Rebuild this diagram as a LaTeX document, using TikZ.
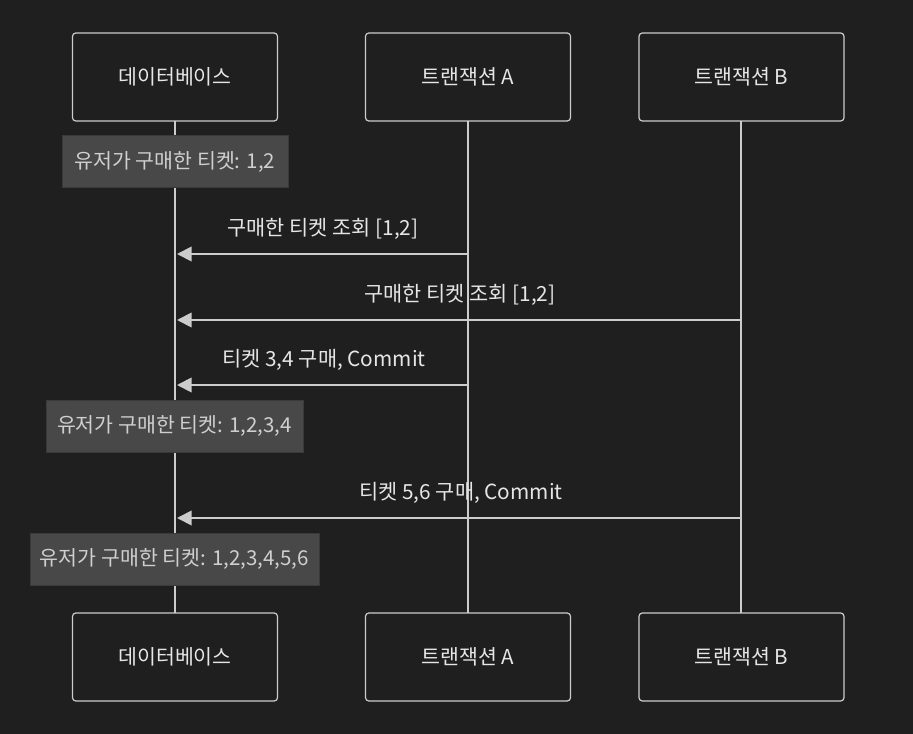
\documentclass[tikz,border=0pt]{standalone}
\usepackage{fontspec}
\setmainfont{Noto Sans CJK KR}
\usetikzlibrary{arrows.meta}
\definecolor{bg}{HTML}{1F1F1F}
\definecolor{ln}{HTML}{CCCCCC}
\definecolor{notefill}{HTML}{484848}
\definecolor{noteedge}{HTML}{3A3A3A}
\definecolor{txt}{HTML}{E6E6E6}
\definecolor{notetxt}{HTML}{CFCFCF}
\tikzset{
  actor/.style={draw=ln, line width=0.9pt, rounded corners=2.5pt, fill=bg, minimum width=153.75pt, minimum height=66pt, text=txt, font=\fontsize{15.4pt}{18pt}\selectfont, inner sep=0pt},
  life/.style={draw=ln, line width=1.5pt},
  note/.style={fill=notefill, draw=noteedge, line width=0.75pt, text=notetxt, font=\fontsize{15.4pt}{18pt}\selectfont, minimum height=39pt, inner sep=0pt},
  msg/.style={draw=ln, line width=1.4pt, -{Triangle[length=11pt,width=11pt]}},
  mlabel/.style={text=txt, font=\fontsize{15.6pt}{18pt}\selectfont, inner sep=0pt}
}
\begin{document}
\begin{tikzpicture}[x=0.75pt,y=-0.75pt]
\fill[bg] (0,0) rectangle (913,734);
\useasboundingbox (0,0) rectangle (913,734);
% lifelines
\coordinate (dbT) at (175,121); \coordinate (dbB) at (175,613);
\coordinate (aT) at (468,121); \coordinate (aB) at (468,613);
\coordinate (bT) at (741,121); \coordinate (bB) at (741,613);
\draw[life] (dbT) -- (dbB);
\draw[life] (aT) -- (aB);
\draw[life] (bT) -- (bB);
% actors
\node[actor] (db1) at (175,77) {데이터베이스};
\node[actor] (a1) at (468,77) {트랜잭션 A};
\node[actor] (b1) at (741.5,77) {트랜잭션 B};
\node[actor] (db2) at (175,657) {데이터베이스};
\node[actor] (a2) at (468,657) {트랜잭션 A};
\node[actor] (b2) at (741.5,657) {트랜잭션 B};
% notes
\node[note, minimum width=169.5pt] (n1) at (175,162) {유저가 구매한 티켓: 1,2};
\node[note, minimum width=192.75pt] (n2) at (174.5,426) {유저가 구매한 티켓: 1,2,3,4};
\node[note, minimum width=216.75pt] (n3) at (174.5,559) {유저가 구매한 티켓: 1,2,3,4,5,6};
% messages
\coordinate (m1s) at (468,254); \coordinate (m1e) at (177,254);
\coordinate (m2s) at (741,320); \coordinate (m2e) at (177,320);
\coordinate (m3s) at (468,385); \coordinate (m3e) at (177,385);
\coordinate (m4s) at (741,518); \coordinate (m4e) at (177,518);
\draw[msg] (m1s) -- (m1e);
\draw[msg] (m2s) -- (m2e);
\draw[msg] (m3s) -- (m3e);
\draw[msg] (m4s) -- (m4e);
\node[mlabel] (l1) at (323,229) {구매한 티켓 조회 [1,2]};
\node[mlabel] (l2) at (460,295) {구매한 티켓 조회 [1,2]};
\node[mlabel] (l3) at (324,360) {티켓 3,4 구매, Commit};
\node[mlabel] (l4) at (461,493) {티켓 5,6 구매, Commit};
\end{tikzpicture}
\end{document}
